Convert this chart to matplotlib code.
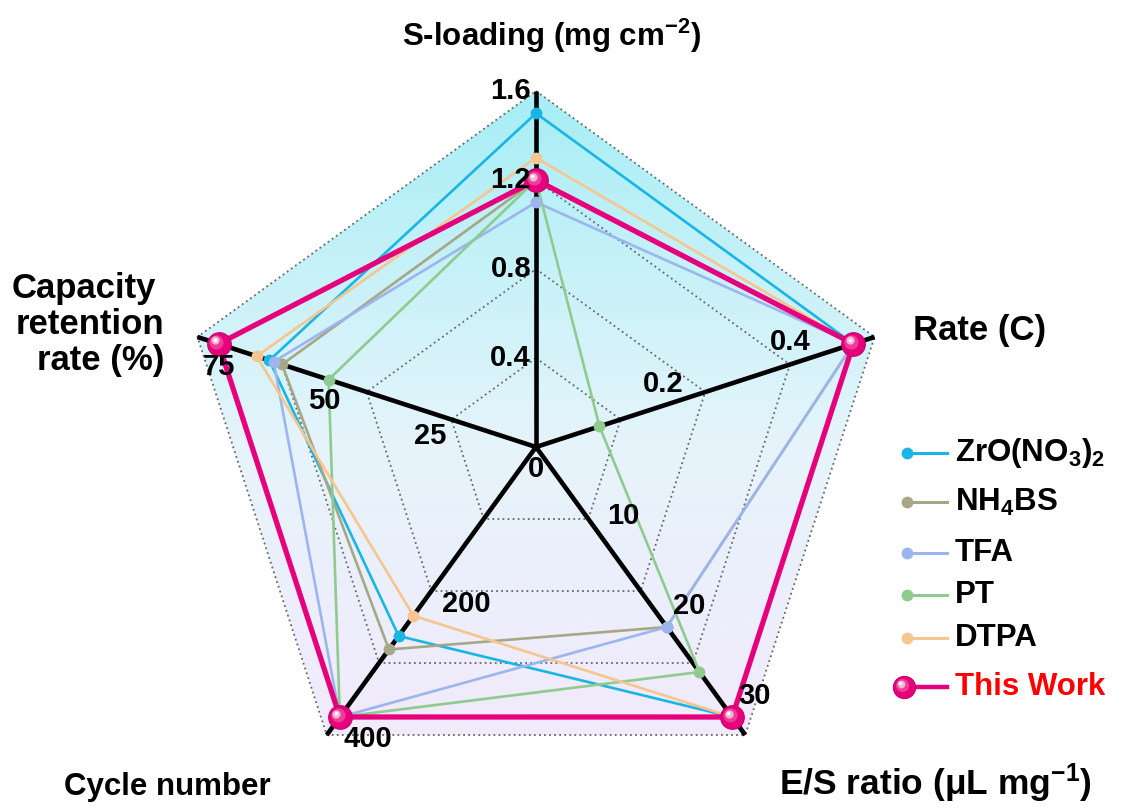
import numpy as np
import matplotlib
matplotlib.use('Agg')
import matplotlib.pyplot as plt
from matplotlib.colors import LinearSegmentedColormap
from matplotlib.patches import Polygon

plt.rcParams['font.family'] = ['Liberation Sans', 'DejaVu Sans']
plt.rcParams['font.weight'] = 'bold'
plt.rcParams['mathtext.fontset'] = 'custom'
plt.rcParams['mathtext.rm'] = 'Liberation Sans:bold'
plt.rcParams['mathtext.it'] = 'Liberation Sans:bold'
plt.rcParams['mathtext.bf'] = 'Liberation Sans:bold'

# radar axes, clockwise from the top
axis_names = ['S-loading', 'Rate', 'E/S ratio', 'Cycle number', 'Capacity retention']
axis_max = [1.6, 0.5333, 32, 426.7, 80]
axis_ticks = [[0.4, 0.8, 1.2, 1.6], [0.2, 0.4], [10, 20, 30], [200, 400], [25, 50, 75]]
tick_text = [['0.4', '0.8', '1.2', '1.6'], ['0.2', '0.4'], ['10', '20', '30'],
             ['200', '400'], ['25', '50', '75']]

labels = ['ZrO(NO$_3$)$_2$', 'NH$_4$BS', 'TFA', 'PT', 'DTPA', 'This Work']
zro = [1.5, 0.5, 30, 280, 63]
nh4bs = [1.2, 0.5, 20, 300, 60]
tfa = [1.1, 0.5, 20, 400, 62]
pt = [1.2, 0.1, 25, 400, 49]
dtpa = [1.3, 0.5, 30, 250, 66]
this_work = [1.2, 0.5, 30, 400, 75]
series = [zro, nh4bs, tfa, pt, dtpa]
colors = ['#19b5e5', '#a7a787', '#9db5ef', '#8fcb8f', '#f7c58e']
pink = '#e6007b'

angles = np.deg2rad([90, 18, -54, -126, 162])
ux, uy = np.cos(angles), np.sin(angles)

# figure laid out in pixels: centre at (536, 447), radius 356
W, H, CX, CY, R = 1122, 811, 536, 447, 356
fig = plt.figure(figsize=(W / 100, H / 100), dpi=100)
ax = fig.add_axes([0, 0, 1, 1])
ax.set_xlim(-CX / R, (W - CX) / R)
ax.set_ylim(-(H - CY) / R, CY / R)
ax.axis('off')


def px(x, y):
    return (x - CX) / R, (CY - y) / R


def radar_xy(vals):
    r = np.array(vals, dtype=float) / np.array(axis_max)
    x, y = r * ux, r * uy
    return np.append(x, x[0]), np.append(y, y[0])


def sphere(x, y, ms, z):
    # glossy ball marker built from stacked discs
    x, y = np.asarray(x), np.asarray(y)
    d = 0.006 * ms / 17
    ax.plot(x, y, 'o', ms=ms, color=pink, mec='#c8006a', mew=0.8, zorder=z, ls='none')
    ax.plot(x - d, y + d, 'o', ms=ms * 0.6, color='#ee3c98', mew=0, zorder=z + 0.1, ls='none')
    ax.plot(x - 1.6 * d, y + 1.6 * d, 'o', ms=ms * 0.35, color='#f9b4d8', mew=0,
            zorder=z + 0.2, ls='none')
    ax.plot(x - 1.8 * d, y + 1.8 * d, 'o', ms=ms * 0.15, color='white', mew=0,
            zorder=z + 0.3, ls='none')


# gradient fill inside the outer pentagon
outer = np.column_stack([ux, uy])
cmap = LinearSegmentedColormap.from_list(
    'bg', [(0, '#f2eafb'), (0.45, '#e6f4fb'), (0.75, '#c4f1f8'), (1, '#a6eef5')])
grad = np.linspace(0, 1, 256).reshape(-1, 1)
im = ax.imshow(grad, extent=[-1, 1, uy.min(), 1], origin='lower', aspect='auto',
               cmap=cmap, zorder=0)
im.set_clip_path(Polygon(outer, closed=True, transform=ax.transData))

# dotted grid rings
for lev in [0.25, 0.5, 0.75, 1.0]:
    ax.plot(np.append(ux, ux[0]) * lev, np.append(uy, uy[0]) * lev,
            ls=(0, (1, 1.8)), color='#666666', lw=1.3, zorder=1)

# spokes
for i in range(5):
    ax.plot([0, ux[i]], [0, uy[i]], color='black', lw=3.3, zorder=2,
            solid_capstyle='butt')

# tick labels
offsets = [(-5, 0), (0, 22), (22, 21), (28, -22), (0, -23)]
for i in range(5):
    ha = 'right' if i == 0 else 'center'
    for v, t in zip(axis_ticks[i], tick_text[i]):
        r = v / axis_max[i]
        ax.annotate(t, (r * ux[i], r * uy[i]), xytext=offsets[i],
                    textcoords='offset pixels', ha=ha, va='center',
                    fontsize=21, fontweight='bold', zorder=8)
ax.annotate('0', (0, 0), xytext=(0, -22), textcoords='offset pixels',
            ha='center', va='center', fontsize=21, fontweight='bold', zorder=8)

# comparison series
for vals, c in zip(series, colors):
    x, y = radar_xy(vals)
    ax.plot(x, y, color=c, lw=1.9, zorder=3)
    ax.plot(x[:-1], y[:-1], 'o', color=c, ms=8.5, mew=0, zorder=4)

x, y = radar_xy(this_work)
ax.plot(x, y, color=pink, lw=3.8, zorder=5)
sphere(x[:-1], y[:-1], 17, 6)

# axis titles
tkw = dict(fontweight='bold', ha='center', va='baseline')
ax.text(*px(552, 46), 'S-loading (mg cm$^{-2}$)', fontsize=22.5, **tkw)
ax.text(*px(980, 340), 'Rate (C)', fontsize=25, **tkw)
ax.text(*px(84, 298), 'Capacity', fontsize=25, **tkw)
ax.text(*px(90, 334), 'retention', fontsize=25, **tkw)
ax.text(*px(101, 370), 'rate (%)', fontsize=25, **tkw)
ax.text(*px(167, 795), 'Cycle number', fontsize=22.5, **tkw)
ax.text(*px(935, 795), 'E/S ratio (μL mg$^{-1}$)', fontsize=25.5, **tkw)

# legend
rows = [453, 502, 553, 595, 638, 687]
for k, lab in enumerate(labels):
    x0, yy = px(907, rows[k])
    x1, _ = px(947, rows[k])
    xt, _ = px(955, rows[k])
    if k < 5:
        ax.plot([x0, x1], [yy, yy], color=colors[k], lw=2.2, zorder=5)
        ax.plot(x0, yy, 'o', color=colors[k], ms=8.5, mew=0, zorder=6)
        tc = 'black'
    else:
        ax.plot([x0, x1], [yy, yy], color=pink, lw=3.2, zorder=5)
        sphere([px(904, 0)[0]], [yy], 16, 6)
        tc = '#ff0000'
    ax.text(xt, yy, lab, fontsize=22.5, fontweight='bold', color=tc,
            ha='left', va='center', zorder=8)

fig.savefig('out.png', dpi=100, facecolor='white')
